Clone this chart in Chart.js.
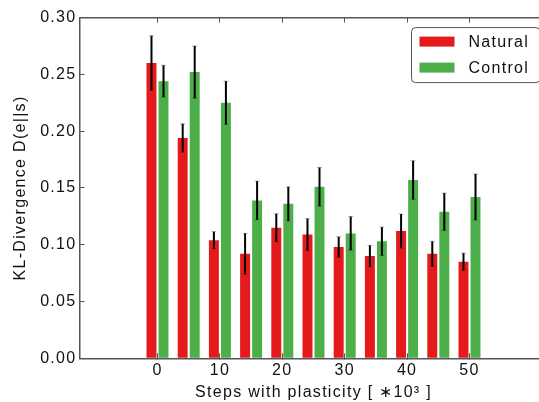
<!DOCTYPE html>
<html>
<head>
<meta charset="utf-8">
<script src="https://cdn.jsdelivr.net/npm/chart.js@4/dist/chart.umd.min.js"></script>
<style>
  html, body { margin: 0; padding: 0; background: #fff; overflow: hidden; }
  #clip { position: relative; width: 539px; height: 402px; overflow: hidden; }
  #wrap { position: absolute; left: 0; top: 0; width: 560px; height: 402px; }
</style>
</head>
<body>
<div id="clip"><div id="wrap"><canvas id="klChart"></canvas></div></div>
<script>
// data
const steps = [0, 5, 10, 15, 20, 25, 30, 35, 40, 45, 50];
const naturalVals = [0.260, 0.194, 0.104, 0.092, 0.115, 0.109, 0.098, 0.090, 0.112, 0.092, 0.085];
const naturalErr  = [0.024, 0.0125, 0.0075, 0.018, 0.0123, 0.014, 0.009, 0.0094, 0.015, 0.011, 0.0076];
const controlVals = [0.244, 0.252, 0.225, 0.139, 0.136, 0.151, 0.110, 0.103, 0.157, 0.129, 0.142];
const controlErr  = [0.014, 0.023, 0.019, 0.017, 0.015, 0.017, 0.0148, 0.0125, 0.017, 0.0165, 0.0203];
const xTicks = [0, 10, 20, 30, 40, 50];
const yTicks = [0, 0.05, 0.10, 0.15, 0.20, 0.25, 0.30];

const RED = '#e41a1c';
const GREEN = '#4daf4a';
const FONT = "'Liberation Sans', Arial, sans-serif";
const SPACING = '1.3px';

function setSpacing(chart) {
    chart.ctx.letterSpacing = SPACING;
}

const spacingPlugin = {
    id: 'spacing',
    beforeUpdate: setSpacing,
    beforeLayout: setSpacing,
    beforeDraw: setSpacing
};

// vertical error bars, positioned through the chart scales
const errorBarPlugin = {
    id: 'errorBars',
    afterDatasetsDraw(chart) {
        const ctx = chart.ctx;
        const yScale = chart.scales.y;
        chart.data.datasets.forEach((ds, i) => {
            const meta = chart.getDatasetMeta(i);
            meta.data.forEach((bar, j) => {
                const v = ds.data[j].y;
                const e = ds.errors[j];
                const yTop = yScale.getPixelForValue(v + e);
                const yBot = yScale.getPixelForValue(v - e);
                ctx.save();
                ctx.strokeStyle = 'rgba(0,0,0,0.3)';
                ctx.lineWidth = 1;
                ctx.beginPath();
                ctx.moveTo(bar.x - 2.5, yTop); ctx.lineTo(bar.x + 2.5, yTop);
                ctx.moveTo(bar.x - 2.5, yBot); ctx.lineTo(bar.x + 2.5, yBot);
                ctx.stroke();
                ctx.strokeStyle = '#000';
                ctx.lineWidth = 2;
                ctx.beginPath();
                ctx.moveTo(bar.x, yTop);
                ctx.lineTo(bar.x, yBot);
                ctx.stroke();
                ctx.restore();
            });
        });
    }
};

// legend box inside the plot, upper right (its right edge runs off the page, as in the figure)
const boxLegendPlugin = {
    id: 'boxLegend',
    afterDraw(chart) {
        const ctx = chart.ctx;
        const area = chart.chartArea;
        const right = area.right - 7.5;
        const left = 411.5;
        const top = area.top + 10;
        const h = 55;
        ctx.save();
        ctx.letterSpacing = SPACING;
        ctx.beginPath();
        ctx.roundRect(left, top, right - left, h, 4);
        ctx.fillStyle = '#fff';
        ctx.fill();
        ctx.strokeStyle = '#555';
        ctx.lineWidth = 1;
        ctx.stroke();
        ctx.font = '16px ' + FONT;
        ctx.textBaseline = 'middle';
        chart.data.datasets.forEach((ds, i) => {
            const cy = top + 14 + i * 26;
            ctx.fillStyle = ds.backgroundColor;
            ctx.fillRect(left + 8, cy - 5, 35, 10);
            ctx.fillStyle = '#111';
            ctx.fillText(ds.label, left + 57, cy + 1);
        });
        ctx.restore();
    }
};

const ctxKL = document.getElementById('klChart').getContext('2d');

new Chart(ctxKL, {
    type: 'bar',
    data: {
        datasets: [{
            label: 'Natural',
            data: steps.map((s, i) => ({ x: s, y: naturalVals[i] })),
            errors: naturalErr,
            backgroundColor: RED,
            borderWidth: 0
        },
        {
            label: 'Control',
            data: steps.map((s, i) => ({ x: s, y: controlVals[i] })),
            errors: controlErr,
            backgroundColor: GREEN,
            borderWidth: 0
        }]
    },
    options: {
        responsive: true,
        maintainAspectRatio: false,
        animation: false,
        categoryPercentage: 0.77,
        barPercentage: 0.83,
        layout: { padding: { left: 0, right: 12.5, top: 0, bottom: 0 } },
        plugins: {
            legend: { display: false },
            tooltip: { enabled: false }
        },
        scales: {
            x: {
                type: 'linear',
                position: 'bottom',
                min: -12.5,
                max: 62.5,
                offset: false,
                afterBuildTicks: (scale) => { scale.ticks = xTicks.map(v => ({ value: v })); },
                afterFit: (scale) => { scale.height = 43.7; },
                grid: { offset: false, drawOnChartArea: false, tickLength: -5, color: '#555', lineWidth: 1 },
                border: { color: '#555', width: 1.5 },
                ticks: {
                    padding: 8,
                    color: '#111',
                    font: { family: FONT, size: 16 },
                    maxRotation: 0
                },
                title: {
                    display: true,
                    text: 'Steps with plasticity [ \u221710\u00b3 ]',
                    color: '#111',
                    font: { family: FONT, size: 16 },
                    padding: { top: 0, bottom: 0 }
                }
            },
            x2: {
                type: 'linear',
                position: 'top',
                min: -12.5,
                max: 62.5,
                offset: false,
                afterBuildTicks: (scale) => { scale.ticks = xTicks.map(v => ({ value: v })); },
                afterFit: (scale) => { scale.height = 14.4; },
                grid: { offset: false, drawOnChartArea: false, tickLength: -5, color: '#555', lineWidth: 1 },
                border: { color: '#555', width: 1.5 },
                ticks: { display: false }
            },
            y: {
                min: 0,
                max: 0.3,
                afterBuildTicks: (scale) => { scale.ticks = yTicks.map(v => ({ value: v })); },
                afterFit: (scale) => { scale.width = 79.5; },
                grid: { drawOnChartArea: false, tickLength: -5, color: '#555', lineWidth: 1 },
                border: { color: '#555', width: 1.5 },
                ticks: {
                    padding: 8,
                    color: '#111',
                    font: { family: FONT, size: 16 },
                    callback: (v) => v.toFixed(2)
                },
                title: {
                    display: true,
                    text: 'KL-Divergence D(e||s)',
                    color: '#111',
                    font: { family: FONT, size: 16 },
                    padding: { top: 11, bottom: 0 }
                }
            }
        }
    },
    plugins: [spacingPlugin, errorBarPlugin, boxLegendPlugin]
});
</script>
</body>
</html>
